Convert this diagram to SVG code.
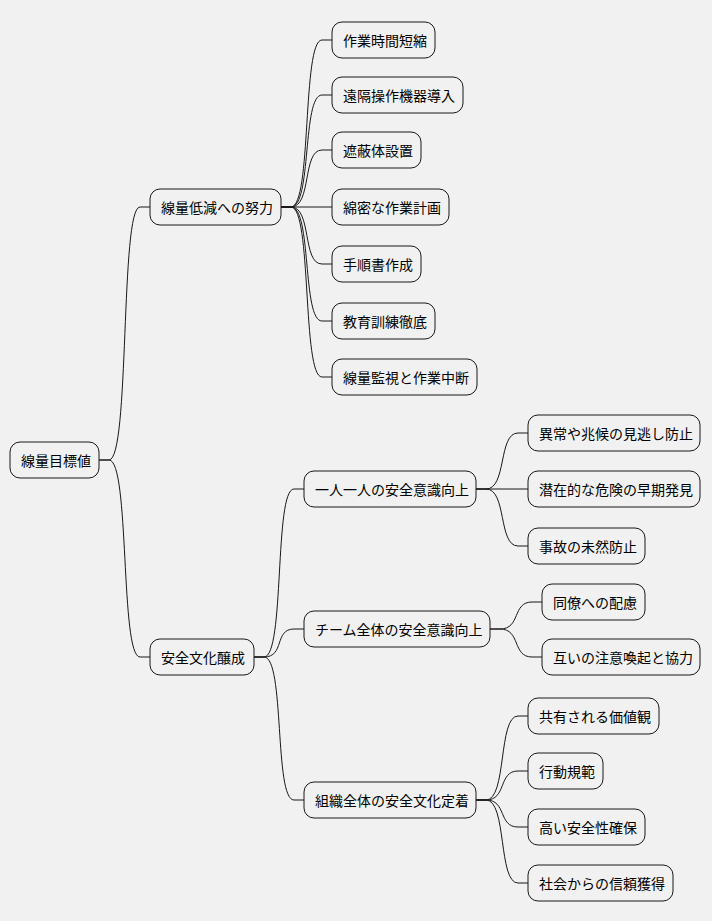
<svg xmlns="http://www.w3.org/2000/svg" width="712" height="921" viewBox="0 0 712 921">
<style>
rect{fill:#F1F1F1;stroke:#181818;stroke-width:1}
text{font-family:"Noto Sans CJK JP","Noto Sans CJK SC",sans-serif;font-size:14px;fill:#000;dominant-baseline:central}
#c path{fill:none;stroke:#181818;stroke-width:1}
</style>
<rect width="712" height="921" fill="#fff" style="stroke:none"/>
<g id="c">
<path d="M99,460 h10 C130,460 120,207 140,207 H150"/>
<path d="M99,460 h10 C130,460 120,657 140,657 H150"/>
<path d="M281,207 h10 C312,207 302,40 322,40 H332"/>
<path d="M281,207 h10 C312,207 302,95 322,95 H332"/>
<path d="M281,207 h10 C312,207 302,150 322,150 H332"/>
<path d="M281,207 H332"/>
<path d="M281,207 h10 C312,207 302,264 322,264 H332"/>
<path d="M281,207 h10 C312,207 302,321 322,321 H332"/>
<path d="M281,207 h10 C312,207 302,377 322,377 H332"/>
<path d="M254,657 h10 C285,657 274,489 294,489 H304"/>
<path d="M254,657 h10 C285,657 274,629 294,629 H304"/>
<path d="M254,657 h10 C285,657 274,800 294,800 H304"/>
<path d="M476,489 h10 C507,489 498,433 518,433 H528"/>
<path d="M476,489 H528"/>
<path d="M476,489 h10 C507,489 498,546 518,546 H528"/>
<path d="M490,629 h10 C521,629 512,602 532,602 H542"/>
<path d="M490,629 h10 C521,629 512,657 532,657 H542"/>
<path d="M476,800 h10 C507,800 498,716 518,716 H528"/>
<path d="M476,800 h10 C507,800 498,771 518,771 H528"/>
<path d="M476,800 h10 C507,800 498,827 518,827 H528"/>
<path d="M476,800 h10 C507,800 498,883 518,883 H528"/>
</g>
<g id="n0"><rect x="10" y="442" width="89" height="36" rx="10"/><text x="21" y="460">線量目標値</text></g>
<g id="n1"><rect x="150" y="189" width="131" height="36" rx="10"/><text x="161" y="207">線量低減への努力</text></g>
<g id="n2"><rect x="150" y="639" width="104" height="36" rx="10"/><text x="161" y="657">安全文化醸成</text></g>
<g id="n11"><rect x="332" y="22" width="103" height="36" rx="10"/><text x="343" y="40">作業時間短縮</text></g>
<g id="n12"><rect x="332" y="77" width="131" height="36" rx="10"/><text x="343" y="95">遠隔操作機器導入</text></g>
<g id="n13"><rect x="332" y="132" width="89" height="36" rx="10"/><text x="343" y="150">遮蔽体設置</text></g>
<g id="n14"><rect x="332" y="189" width="117" height="36" rx="10"/><text x="343" y="207">綿密な作業計画</text></g>
<g id="n15"><rect x="332" y="246" width="89" height="36" rx="10"/><text x="343" y="264">手順書作成</text></g>
<g id="n16"><rect x="332" y="303" width="103" height="36" rx="10"/><text x="343" y="321">教育訓練徹底</text></g>
<g id="n17"><rect x="332" y="359" width="145" height="36" rx="10"/><text x="343" y="377">線量監視と作業中断</text></g>
<g id="n21"><rect x="304" y="471" width="172" height="36" rx="10"/><text x="315" y="489">一人一人の安全意識向上</text></g>
<g id="n22"><rect x="304" y="611" width="186" height="36" rx="10"/><text x="315" y="629">チーム全体の安全意識向上</text></g>
<g id="n23"><rect x="304" y="782" width="172" height="36" rx="10"/><text x="315" y="800">組織全体の安全文化定着</text></g>
<g id="n211"><rect x="528" y="415" width="172" height="36" rx="10"/><text x="539" y="433">異常や兆候の見逃し防止</text></g>
<g id="n212"><rect x="528" y="471" width="172" height="36" rx="10"/><text x="539" y="489">潜在的な危険の早期発見</text></g>
<g id="n213"><rect x="528" y="528" width="117" height="36" rx="10"/><text x="539" y="546">事故の未然防止</text></g>
<g id="n221"><rect x="542" y="584" width="103" height="36" rx="10"/><text x="553" y="602">同僚への配慮</text></g>
<g id="n222"><rect x="542" y="639" width="158" height="36" rx="10"/><text x="553" y="657">互いの注意喚起と協力</text></g>
<g id="n231"><rect x="528" y="698" width="131" height="36" rx="10"/><text x="539" y="716">共有される価値観</text></g>
<g id="n232"><rect x="528" y="753" width="75" height="36" rx="10"/><text x="539" y="771">行動規範</text></g>
<g id="n233"><rect x="528" y="809" width="117" height="36" rx="10"/><text x="539" y="827">高い安全性確保</text></g>
<g id="n234"><rect x="528" y="865" width="145" height="36" rx="10"/><text x="539" y="883">社会からの信頼獲得</text></g>
</svg>
